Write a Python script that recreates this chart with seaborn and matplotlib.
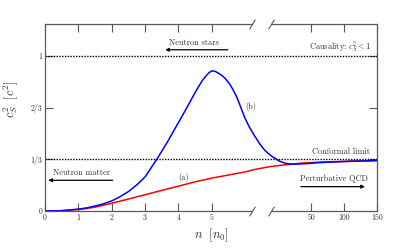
import numpy as np
import seaborn as sns
from matplotlib import pyplot as plt

# speed of sound squared vs density
n_blue = [0, 0.5, 1.0, 1.25, 1.5, 1.75, 2.0, 2.25, 2.5, 2.75, 3.0, 3.17, 3.34, 3.5,
          3.67, 3.84, 4.0, 4.17, 4.34, 4.47, 4.6, 4.72, 4.84, 4.92, 5.0, 5.1, 5.2,
          5.3, 5.39, 5.47, 5.55, 5.62, 5.69, 5.76, 5.82, 5.9, 5.99, 6.07, 6.14,
          7.29, 8.2, 9.04, 9.9, 10.8, 11.7, 12.55, 13.4, 14.3, 15.2, 16.05, 17.8,
          19.55, 26, 33.2, 48, 63.6, 85, 109, 150]
c2_blue = [0, 0.002, 0.012, 0.02, 0.032, 0.046, 0.065, 0.092, 0.125, 0.168, 0.22,
           0.275, 0.33, 0.385, 0.445, 0.51, 0.57, 0.635, 0.70, 0.752, 0.80, 0.842,
           0.874, 0.892, 0.903, 0.90, 0.888, 0.874, 0.856, 0.836, 0.813, 0.788,
           0.759, 0.728, 0.695, 0.65, 0.60, 0.565, 0.535,
           0.48, 0.455, 0.43, 0.41, 0.39, 0.375, 0.362, 0.35, 0.34, 0.329, 0.32,
           0.308, 0.303, 0.302, 0.303, 0.307, 0.312, 0.316, 0.32, 0.325]

n_red = [0, 0.5, 1, 1.25, 1.5, 1.75, 2, 2.5, 3, 3.5, 4, 4.5, 5, 5.5, 6, 7.29, 9.04,
         10.8, 12.55, 16.05, 19.55, 33.2, 63.6, 109, 150]
c2_red = [0, 0.002, 0.01, 0.016, 0.025, 0.037, 0.05, 0.077, 0.105, 0.133, 0.16,
          0.188, 0.212, 0.232, 0.252, 0.268, 0.274, 0.28, 0.286, 0.294, 0.30,
          0.308, 0.315, 0.321, 0.325]

xticks = [0, 1, 2, 3, 4, 5, 50, 100, 150]
yticks = [0, 1 / 3, 2 / 3, 1]
ytick_labels = ['0', '1/3', '2/3', '1']

# broken x axis: linear up to 6.2, squeezed gap, then compressed linear
n_knots = [0, 6.2, 20, 150]
u_knots = [0, 6.2, 7.38, 9.95]


def forward(x):
    return np.interp(x, n_knots, u_knots)


def inverse(u):
    return np.interp(u, u_knots, n_knots)


sns.set_style("ticks")
plt.rcParams['font.family'] = 'serif'
plt.rcParams['font.serif'] = ['cmr10']
plt.rcParams['mathtext.fontset'] = 'cm'
plt.rcParams['axes.formatter.use_mathtext'] = True

spine_c = '0.35'
txt_c = '0.2'

fig = plt.figure(figsize=(4.15, 2.49), dpi=100)
ax = fig.add_axes([0.1084, 0.1526, 0.8, 0.751])
ax.set_xscale('function', functions=(forward, inverse))

sns.lineplot(x=n_red, y=c2_red, ax=ax, color='#ff0000', linewidth=1.1,
             solid_joinstyle='round')
sns.lineplot(x=n_blue, y=c2_blue, ax=ax, color='#0000ff', linewidth=1.1,
             solid_joinstyle='round')

ax.axhline(1, color='k', ls=(0, (1, 1)), lw=1)
ax.axhline(1 / 3, color='k', ls=(0, (1, 1)), lw=1)

ax.set_xlim(0, 150)
ax.set_ylim(0, 1.205)
ax.set_xticks(xticks)
ax.set_xticklabels([str(t) for t in xticks])
ax.set_yticks(yticks)
ax.set_yticklabels(ytick_labels)
ax.tick_params(direction='in', top=True, right=True, length=5.5, width=0.8,
               color=spine_c, labelsize=5.6, labelcolor=txt_c, pad=2)

# broken top/bottom spines
for side in ['top', 'bottom']:
    ax.spines[side].set_visible(False)
for side in ['left', 'right']:
    ax.spines[side].set_color(spine_c)
    ax.spines[side].set_linewidth(0.9)
xtr = ax.get_xaxis_transform()
for yy in [0, 1]:
    ax.plot([0, 6.2], [yy, yy], transform=xtr, color=spine_c, lw=0.9, clip_on=False)
    ax.plot([12.9, 150], [yy, yy], transform=xtr, color=spine_c, lw=0.9, clip_on=False)
    ax.plot([6.2, 12.9], [yy, yy], transform=xtr, marker=[(-0.6, -1), (0.6, 1)],
            markersize=7, ls='none', mec=spine_c, mew=0.8, clip_on=False)

ax.set_xlabel(r'$n\ \ [n_0]$', fontsize=9, color=txt_c, labelpad=3)
ax.set_ylabel(r'$c_S^2\ \ [c^2]$', fontsize=9, color=txt_c)
ax.yaxis.set_label_coords(-0.075, 0.6)

fs = 6
arrow = dict(arrowstyle='-|>', color='k', lw=0.9, mutation_scale=5, shrinkA=0, shrinkB=0)
ax.text(4.45, 1.082, 'Neutron stars', fontsize=fs, color=txt_c, ha='center', va='center')
ax.annotate('', xy=(3.6, 1.039), xytext=(5.48, 1.039), arrowprops=arrow)
ax.text(142, 1.054, r'Causality: $c_S^2 < 1$', fontsize=fs, color=txt_c, ha='right', va='center')
ax.text(6.17, 0.674, '(b)', fontsize=fs, color=txt_c, ha='center', va='center')
ax.text(4.165, 0.213, '(a)', fontsize=fs, color=txt_c, ha='center', va='center')
ax.text(139.4, 0.381, 'Conformal limit', fontsize=fs, color=txt_c, ha='right', va='center')
ax.text(84.8, 0.205, 'Perturbative QCD', fontsize=fs, color=txt_c, ha='center', va='center')
ax.annotate('', xy=(131.8, 0.157), xytext=(34.7, 0.157), arrowprops=arrow)
ax.text(1.09, 0.245, 'Neutron matter', fontsize=fs, color=txt_c, ha='center', va='center')
ax.annotate('', xy=(0.1, 0.198), xytext=(2.03, 0.198), arrowprops=arrow)

fig.savefig('out.png', dpi=100)
